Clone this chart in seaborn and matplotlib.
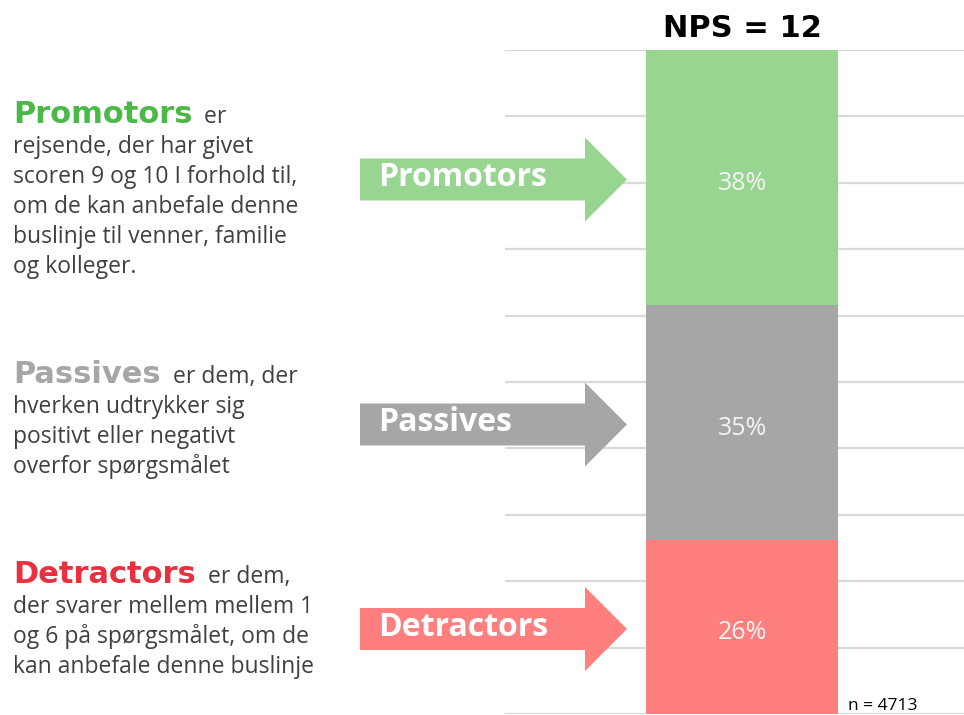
import matplotlib
matplotlib.use("Agg")
import matplotlib.pyplot as plt
import seaborn as sns
import pandas as pd
from matplotlib.patches import Polygon

# ---------------- data ----------------
categories = ["Detractors", "Passives", "Promotors"]          # bottom -> top
shares = [26.2, 35.4, 38.4]                                   # percent
bar_colors = ["#ff7f7f", "#a6a6a6", "#98d590"]
heading_colors = ["#e8303f", "#a6a6a6", "#4cb848"]
n_label = "n = 4713"
inline_words = {"Promotors": "  er", "Passives": "  er dem, der", "Detractors": "  er dem,"}
body_lines = {
    "Promotors": ["rejsende, der har givet", "scoren 9 og 10 I forhold til,",
                  "om de kan anbefale denne", "buslinje til venner, familie",
                  "og kolleger."],
    "Passives": ["hverken udtrykker sig", "positivt eller negativt",
                 "overfor spørgsmålet"],
    "Detractors": ["der svarer mellem mellem 1", "og 6 på spørgsmålet, om de",
                   "kan anbefale denne buslinje"],
}
nps = round(shares[2] - shares[0])

# ---------------- style ----------------
sns.set_theme(style="white")
plt.rcParams["font.family"] = ["Open Sans", "DejaVu Sans"]

W, H = 964, 715
fig = plt.figure(figsize=(W / 100, H / 100), dpi=100)
ax = fig.add_axes([505 / W, 1 / H, 459 / W, 664 / H])

# stacked bar via overlaid cumulative bars
cum = []
s = 0
for v in shares:
    s += v
    cum.append(s)
for i in reversed(range(len(categories))):
    df = pd.DataFrame({"g": ["NPS"], "v": [cum[i]]})
    sns.barplot(data=df, x="g", y="v", color=bar_colors[i], saturation=1,
                width=0.837, ax=ax, zorder=2, linewidth=0, edgecolor="none")

ax.set_xlim(-1.033, 0.967)
ax.set_ylim(0, 100)
ax.set_yticks(range(0, 101, 10))
ax.yaxis.grid(True, color="#d9d9d9", lw=1.6)
ax.set_axisbelow(True)
ax.tick_params(left=False, bottom=False, labelleft=False, labelbottom=False)
ax.set_xlabel("")
ax.set_ylabel("")
for sp in ax.spines.values():
    sp.set_visible(False)

# value labels
bottoms = [0] + cum[:-1]
centers = []
for b, v in zip(bottoms, shares):
    c = b + v / 2
    centers.append(c)
    ax.annotate(f"{v:.0f}%", xy=(0, c), xytext=(0, -4), textcoords="offset points",
                ha="center", va="center", color="#f4f4f4", fontsize=18, zorder=3)

ax.annotate(f"NPS = {nps}", xy=(0, 100), xytext=(0, 9.5), textcoords="offset points",
            ha="center", va="baseline", fontsize=22, fontweight="bold",
            family=["DejaVu Sans"], color="black")

# overlay for arrows and explanations (pixel coordinates)
ov = fig.add_axes([0, 0, 1, 1], zorder=5)
ov.set_xlim(0, W)
ov.set_ylim(H, 0)
ov.axis("off")
ov.patch.set_alpha(0)

x0, xneck, xtip = 360, 585, 627
half_body, half_head = 21, 42
for cat, col, c in zip(categories, bar_colors, centers):
    ypix = H - ax.transData.transform((0, c))[1] + 2
    pts = [(x0, ypix - half_body), (xneck, ypix - half_body), (xneck, ypix - half_head),
           (xtip, ypix), (xneck, ypix + half_head), (xneck, ypix + half_body),
           (x0, ypix + half_body)]
    ov.add_patch(Polygon(pts, closed=True, facecolor=col, edgecolor="none"))
    ov.text(378, ypix - 2, cat, ha="left", va="center", color="white",
            fontsize=23, fontweight="bold")

heading_baselines = {"Promotors": 123, "Passives": 383, "Detractors": 583}
text_col = "#404040"
for cat, hcol in zip(categories, heading_colors):
    yb = heading_baselines[cat]
    ht = ov.text(13, yb, cat, ha="left", va="baseline", color=hcol,
                 fontsize=22, fontweight="bold", family=["DejaVu Sans"])
    ov.annotate(inline_words[cat], xy=(1, 0), xycoords=ht, ha="left", va="bottom",
                color=text_col, fontsize=16.5)
    for k, line in enumerate(body_lines[cat]):
        ov.text(13, yb + 30 * (k + 1), line, ha="left", va="baseline",
                color=text_col, fontsize=16.5)

ov.text(848, 710, n_label, ha="left", va="baseline", color="black", fontsize=12.5)

fig.savefig("out.png", dpi=100)
